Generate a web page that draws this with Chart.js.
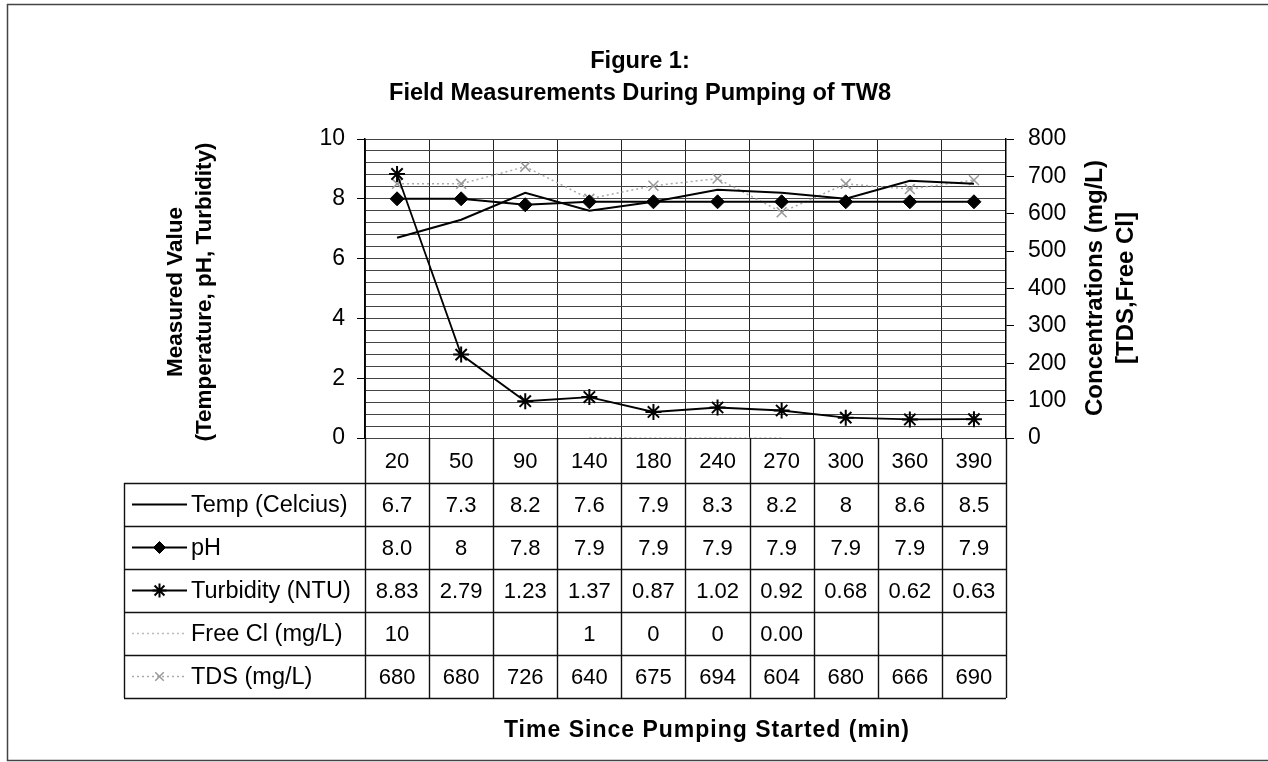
<!DOCTYPE html>
<html>
<head>
<meta charset="utf-8">
<script src="https://cdn.jsdelivr.net/npm/chart.js@4.4.1/dist/chart.umd.min.js"></script>
<style>
  html, body { margin: 0; padding: 0; background: #fff; }
</style>
</head>
<body>
<canvas id="myChart" width="1268" height="762"></canvas>
<script>
// values as printed in the data table under the chart ('' = empty cell)
const times = ['20', '50', '90', '140', '180', '240', '270', '300', '360', '390'];
const temp = ['6.7', '7.3', '8.2', '7.6', '7.9', '8.3', '8.2', '8', '8.6', '8.5'];
const ph = ['8.0', '8', '7.8', '7.9', '7.9', '7.9', '7.9', '7.9', '7.9', '7.9'];
const turbidity = ['8.83', '2.79', '1.23', '1.37', '0.87', '1.02', '0.92', '0.68', '0.62', '0.63'];
const freeCl = ['10', '', '', '1', '0', '0', '0.00', '', '', ''];
const tds = ['680', '680', '726', '640', '675', '694', '604', '680', '666', '690'];
const seriesNames = ['Temp (Celcius)', 'pH', 'Turbidity (NTU)', 'Free Cl (mg/L)', 'TDS (mg/L)'];

const FONT = 'Arial, "Liberation Sans", sans-serif';
const toNum = v => v === '' ? null : Number(v);
const isMajor = v => Math.abs(v / 2 - Math.round(v / 2)) < 1e-6;

// table geometry
const headerBottom = 483;
const rowH = 43;
const tableLeft = 124;

const tablePlugin = {
  id: 'dataTable',
  beforeDraw(chart) {
    const ctx = chart.ctx;
    ctx.save();
    ctx.fillStyle = '#fff';
    ctx.fillRect(0, 0, chart.width, chart.height);
    ctx.strokeStyle = '#444';
    ctx.lineWidth = 1.5;
    ctx.beginPath();
    ctx.moveTo(1268, 4.5);
    ctx.lineTo(7.5, 4.5);
    ctx.lineTo(7.5, 760.5);
    ctx.lineTo(1268, 760.5);
    ctx.stroke();
    ctx.restore();
  },
  afterDraw(chart) {
    const { ctx, chartArea, scales } = chart;
    const x = scales.x;
    const half = (x.getPixelForValue(1) - x.getPixelForValue(0)) / 2;
    const rows = [temp, ph, turbidity, freeCl, tds];
    const tableBottom = headerBottom + rows.length * rowH;

    ctx.save();
    ctx.strokeStyle = '#111';
    ctx.lineWidth = 1.4;
    ctx.beginPath();
    for (let i = 0; i <= times.length; i++) {
      const bx = Math.round(x.getPixelForValue(0) - half + i * 2 * half) + 0.5;
      ctx.moveTo(bx, chartArea.bottom);
      ctx.lineTo(bx, tableBottom);
    }
    for (let r = 0; r <= rows.length; r++) {
      const y = headerBottom + r * rowH + 0.5;
      ctx.moveTo(tableLeft, y);
      ctx.lineTo(chartArea.right, y);
    }
    ctx.moveTo(tableLeft + 0.5, headerBottom);
    ctx.lineTo(tableLeft + 0.5, tableBottom);
    ctx.stroke();

    ctx.fillStyle = '#000';
    ctx.font = '22px ' + FONT;
    ctx.textAlign = 'center';
    ctx.textBaseline = 'middle';
    times.forEach((t, i) => {
      ctx.fillText(t, x.getPixelForValue(i), (chartArea.bottom + headerBottom) / 2 + 1);
    });

    rows.forEach((vals, r) => {
      const cy = headerBottom + r * rowH + rowH / 2 + 1;
      vals.forEach((v, i) => {
        if (v !== '') ctx.fillText(v, x.getPixelForValue(i), cy);
      });
    });

    // legend keys + series names
    ctx.font = '23.5px ' + FONT;
    rows.forEach((vals, r) => {
      const cy = headerBottom + r * rowH + rowH / 2;
      const ds = chart.data.datasets[r];
      ctx.save();
      ctx.strokeStyle = ds.borderColor;
      ctx.lineWidth = ds.borderWidth;
      ctx.setLineDash(ds.borderDash || []);
      ctx.beginPath();
      ctx.moveTo(132, cy);
      ctx.lineTo(187, cy);
      ctx.stroke();
      ctx.setLineDash([]);
      if (ds.pointRadius > 0) {
        ctx.fillStyle = ds.pointBackgroundColor;
        ctx.strokeStyle = ds.pointBorderColor;
        ctx.lineWidth = ds.pointBorderWidth;
        Chart.helpers.drawPoint(ctx, { pointStyle: ds.pointStyle, radius: ds.pointRadius - 1, rotation: 0, borderWidth: ds.pointBorderWidth }, 159.5, cy);
      }
      ctx.restore();
      ctx.textAlign = 'left';
      ctx.fillText(seriesNames[r], 191, cy + 1);
    });

    // titles
    ctx.textAlign = 'center';
    ctx.font = 'bold 23.6px ' + FONT;
    ctx.fillText('Figure 1:', 640, 61);
    ctx.fillText('Field Measurements During Pumping of TW8', 640, 93);

    ctx.save();
    ctx.font = 'bold 23px ' + FONT;
    if ('letterSpacing' in ctx) ctx.letterSpacing = '1px';
    ctx.fillText('Time Since Pumping Started (min)', 707, 731);
    ctx.restore();

    ctx.save();
    ctx.font = 'bold 22.5px ' + FONT;
    ctx.translate(176, 292);
    ctx.rotate(-Math.PI / 2);
    ctx.fillText('Measured Value', 0, 0);
    ctx.fillText('(Temperature, pH, Turbidity)', 0, 29);
    ctx.restore();

    ctx.save();
    ctx.font = 'bold 24px ' + FONT;
    ctx.translate(1095, 288);
    ctx.rotate(-Math.PI / 2);
    ctx.fillText('Concentrations (mg/L)', 0, 0);
    ctx.fillText('[TDS,Free Cl]', 0, 31);
    ctx.restore();

    ctx.restore();
  }
};

const ctx = document.getElementById('myChart').getContext('2d');

new Chart(ctx, {
  type: 'line',
  data: {
    labels: times,
    datasets: [
      {
        label: seriesNames[0],
        data: temp.map(toNum),
        yAxisID: 'y',
        borderColor: '#000',
        borderWidth: 2,
        pointRadius: 0,
        pointStyle: false
      },
      {
        label: seriesNames[1],
        data: ph.map(toNum),
        yAxisID: 'y',
        borderColor: '#000',
        borderWidth: 2,
        pointStyle: 'rectRot',
        pointRadius: 7,
        pointBackgroundColor: '#000',
        pointBorderColor: '#000',
        pointBorderWidth: 1
      },
      {
        label: seriesNames[2],
        data: turbidity.map(toNum),
        yAxisID: 'y',
        borderColor: '#000',
        borderWidth: 1.8,
        pointStyle: 'star',
        pointRadius: 8,
        pointBackgroundColor: '#000',
        pointBorderColor: '#000',
        pointBorderWidth: 2
      },
      {
        label: seriesNames[3],
        data: freeCl.map(toNum),
        yAxisID: 'y1',
        borderColor: '#bbb',
        borderWidth: 1.5,
        borderDash: [2, 3],
        pointRadius: 0,
        pointStyle: false
      },
      {
        label: seriesNames[4],
        data: tds.map(toNum),
        yAxisID: 'y1',
        borderColor: '#aaa',
        borderWidth: 1.5,
        borderDash: [2, 3],
        pointStyle: 'crossRot',
        pointRadius: 7,
        pointBackgroundColor: '#999',
        pointBorderColor: '#999',
        pointBorderWidth: 1.5
      }
    ]
  },
  options: {
    responsive: false,
    animation: false,
    spanGaps: false,
    layout: { padding: { top: 139, bottom: 324, left: 0, right: 0 } },
    plugins: {
      legend: { display: false },
      tooltip: { enabled: false },
      title: { display: false }
    },
    scales: {
      x: {
        offset: true,
        afterFit: s => { s.height = 0; },
        ticks: { display: false },
        grid: { offset: true, color: '#222', lineWidth: 1, drawTicks: false },
        border: { display: false }
      },
      y: {
        position: 'left',
        min: 0,
        max: 10,
        afterFit: s => { s.width = 365; },
        ticks: {
          stepSize: 0.4,
          autoSkip: false,
          padding: 12,
          color: '#000',
          font: { family: FONT, size: 23 },
          callback: v => isMajor(v) ? String(Math.round(v)) : ''
        },
        grid: {
          color: '#444',
          lineWidth: 1,
          tickLength: 8,
          tickColor: c => (c.tick && isMajor(c.tick.value)) ? '#000' : 'rgba(0,0,0,0)'
        },
        border: { color: '#000', width: 1.5 }
      },
      y1: {
        position: 'right',
        min: 0,
        max: 800,
        afterFit: s => { s.width = 262; },
        ticks: {
          stepSize: 100,
          padding: 14,
          color: '#000',
          font: { family: FONT, size: 23 }
        },
        grid: { drawOnChartArea: false, tickLength: 8, color: '#000' },
        border: { color: '#000', width: 1.5 }
      }
    }
  },
  plugins: [tablePlugin]
});
</script>
</body>
</html>
